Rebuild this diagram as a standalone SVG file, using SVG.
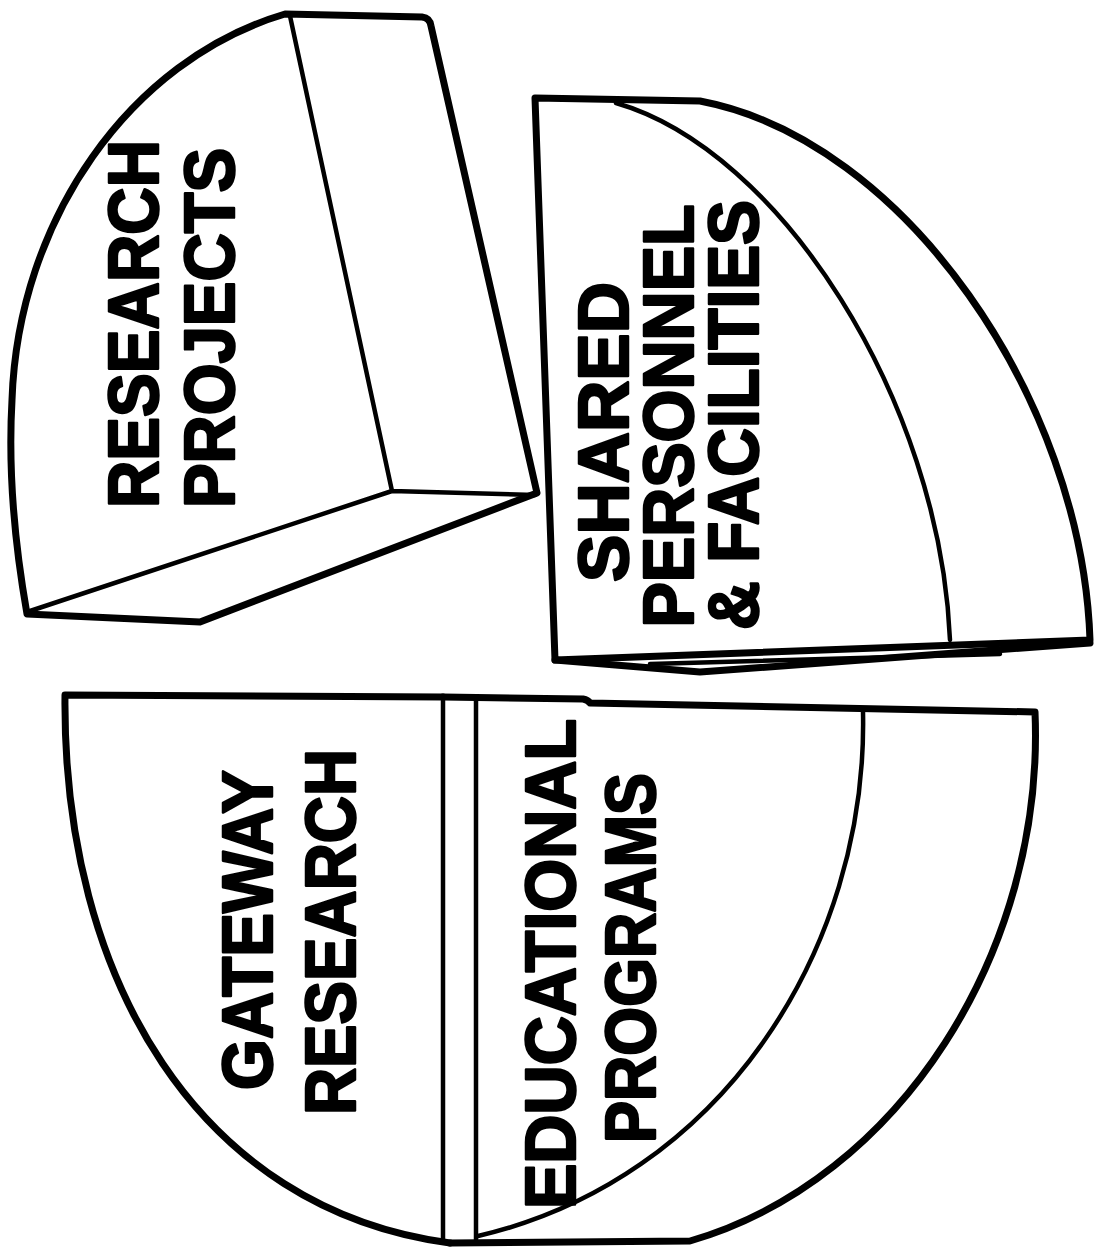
<svg xmlns="http://www.w3.org/2000/svg" width="1099" height="1258" viewBox="0 0 1099 1258">
<style>
.o{fill:none;stroke:#000;stroke-width:7;stroke-linejoin:round;stroke-linecap:round}
.i{fill:none;stroke:#000;stroke-width:4.5;stroke-linejoin:round;stroke-linecap:round}
.t{font-family:"Liberation Sans",Arial,sans-serif;font-weight:bold;font-size:70px;fill:#000;stroke:#000;stroke-width:2.5;stroke-linejoin:round;text-anchor:middle}
</style>
<rect width="1099" height="1258" fill="#fff"/>
<g id="research-projects">
<path class="o" d="M285,14 L422,17 Q430,18 431,26 L537,493 L200,622 L27,614 C14,540 8,470 12,400 C18,220 130,60 285,14 Z"/>
<path class="i" d="M290,16 L392,491 L535,495 M392,491 L27,612"/>
<text class="t" transform="translate(158,324) rotate(-90)" textLength="368" lengthAdjust="spacingAndGlyphs">RESEARCH</text>
<text class="t" transform="translate(234,328) rotate(-90)" textLength="360" lengthAdjust="spacingAndGlyphs">PROJECTS</text>
</g>
<g id="shared-personnel-facilities">
<path class="o" d="M535,98 L700,101 C905,140 1082,400 1090,640 L555,660 Z"/>
<path class="i" d="M616,103 C780,150 940,400 950,640"/>
<path class="o" d="M555,660 L700,672 L1090,643"/>
<path class="i" d="M650,664 L1000,654"/>
<text class="t" transform="translate(628,432) rotate(-90)" textLength="300" lengthAdjust="spacingAndGlyphs">SHARED</text>
<text class="t" transform="translate(693,416) rotate(-90)" textLength="423" lengthAdjust="spacingAndGlyphs">PERSONNEL</text>
<text class="t" transform="translate(758,415) rotate(-90)" textLength="430" lengthAdjust="spacingAndGlyphs">&amp; FACILITIES</text>
</g>
<g id="gateway-research">
<path class="o" d="M443,697 L65,695 C62,980 200,1210 450,1243"/>
<path class="i" d="M443,697 L443,1240"/>
<text class="t" transform="translate(272,930) rotate(-90)" textLength="320" lengthAdjust="spacingAndGlyphs">GATEWAY</text>
<text class="t" transform="translate(355,932) rotate(-90)" textLength="366" lengthAdjust="spacingAndGlyphs">RESEARCH</text>
</g>
<g id="educational-programs">
<path class="o" d="M443,697 L583,699 Q588,700 590,703 L1035,712 C1045,950 900,1180 690,1241 L450,1243"/>
<path class="i" d="M476,700 L476,1240"/>
<path class="i" d="M863,712 C868,950 720,1180 478,1236"/>
<text class="t" transform="translate(575,964) rotate(-90)" textLength="490" lengthAdjust="spacingAndGlyphs">EDUCATIONAL</text>
<text class="t" transform="translate(655,958) rotate(-90)" textLength="370" lengthAdjust="spacingAndGlyphs">PROGRAMS</text>
</g>
<g id="connectors"></g>
</svg>
